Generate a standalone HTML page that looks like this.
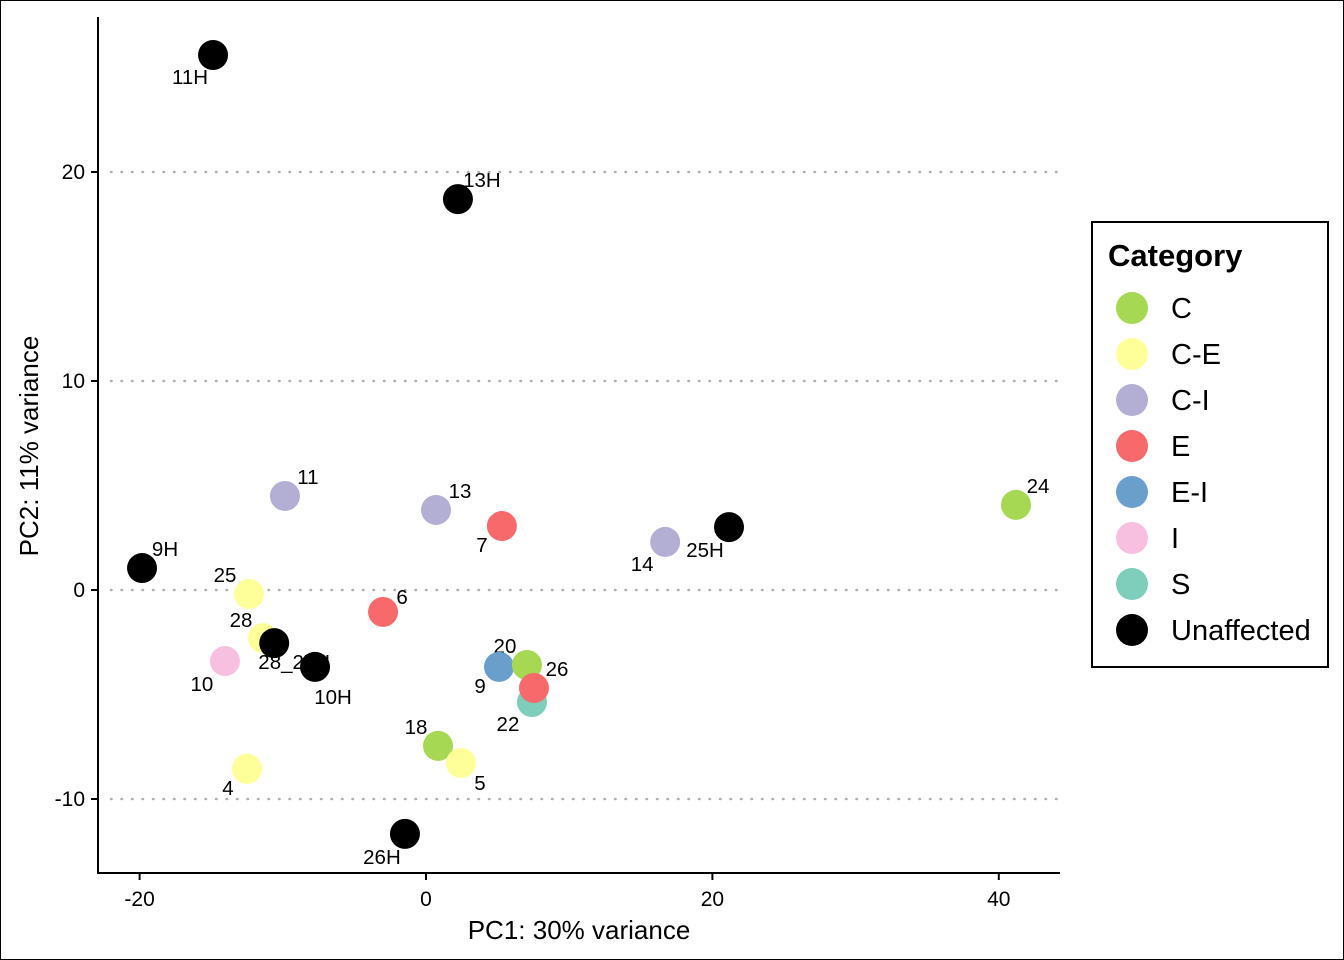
<!DOCTYPE html>
<html><head><meta charset="utf-8"><style>
html,body{margin:0;padding:0;background:#fff}
#wrap{width:1342px;height:958px;border:1px solid #000;position:relative;overflow:hidden}
svg text{font-family:"Liberation Sans",Arial,sans-serif}
</style></head><body>
<div id="wrap">
<svg id="chart" width="1342" height="958"></svg>
</div>
<script>
const sampleLabels=["11H","13H","11","13","7","24","14","25H","9H","25","6","28","28_27H","10","10H","9","20","22","26","18","5","4","26H"];
const pc1Values=[-14.87,2.23,-9.85,0.7,5.3,41.2,16.7,21.16,-19.83,-12.36,-3.0,-11.38,-10.6,-14.04,-7.75,5.1,7.05,7.4,7.54,0.84,2.44,-12.5,-1.47];
const pc2Values=[25.6,18.7,4.5,3.83,3.06,4.07,2.3,3.01,1.05,-0.19,-1.05,-2.3,-2.54,-3.4,-3.68,-3.68,-3.59,-5.36,-4.69,-7.46,-8.28,-8.56,-11.67];
const categoryValues=["Unaffected","Unaffected","C-I","C-I","E","C","C-I","Unaffected","Unaffected","C-E","E","C-E","Unaffected","I","Unaffected","E-I","C","S","E","C","C-E","C-E","Unaffected"];
const labelDx=[-23,24,23,24,-20,22,-23,-24,23,-24,19,-22,20,-23,18,-19,-22,-24,23,-22,19,-19,-23];
const labelDy=[22,-19,-19,-19,19,-19,22,23,-19,-19,-15,-18,19,23,30,19,-19,22,-19,-19,20,19,23];
const categories=["C","C-E","C-I","E","E-I","I","S","Unaffected"];
const catColors=["#a6d854","#ffff99","#b3aed4","#f8696b","#6a9fcb","#f7bfe0","#7fcdbb","#000000"];
const xTicks=[-20,0,20,40];
const yTicks=[-10,0,10,20];

const NS="http://www.w3.org/2000/svg";
const svg=document.getElementById('chart');
function xs(v){return 425+v*14.32;}
function ys(v){return 589-v*20.9;}
function mk(tag,attrs,parent){const e=document.createElementNS(NS,tag);for(const k in attrs)e.setAttribute(k,attrs[k]);(parent||svg).appendChild(e);return e;}

yTicks.forEach(t=>{
  const g=mk('line',{x1:110,x2:1058,y1:ys(t),y2:ys(t),stroke:'#b0b0b0','stroke-width':2.5,'stroke-dasharray':'0.5 10','stroke-linecap':'round'});
  
  
});
const ax=mk('line',{x1:97,x2:97,y1:16,y2:873,stroke:'#000','stroke-width':2});


const bx=mk('line',{x1:96,x2:1059,y1:872,y2:872,stroke:'#000','stroke-width':2});


xTicks.forEach(t=>{
  const l=mk('line',{x1:xs(t),x2:xs(t),y1:872,y2:879,stroke:'#000','stroke-width':2});
  
  
  const tx=mk('text',{x:xs(t),y:905,'text-anchor':'middle','font-size':21});
  tx.textContent=t;
  
  
});
yTicks.forEach(t=>{
  const l=mk('line',{x1:90,x2:97,y1:ys(t),y2:ys(t),stroke:'#000','stroke-width':2});
  
  
  const tx=mk('text',{x:84,y:ys(t)+7,'text-anchor':'end','font-size':21});
  tx.textContent=t;
  
  
});
const xt=mk('text',{x:578,y:938,'text-anchor':'middle','font-size':26});
xt.textContent='PC1: 30% variance';


const yt=mk('text',{x:0,y:0,'text-anchor':'middle','font-size':26,transform:'translate(37,445) rotate(-90)'});
yt.textContent='PC2: 11% variance';



for(let i=0;i<sampleLabels.length;i++){
  const t=mk('text',{x:xs(pc1Values[i])+labelDx[i],y:ys(pc2Values[i])+labelDy[i]+7,'text-anchor':'middle','font-size':20.5});
  t.textContent=sampleLabels[i];
  
  
}
for(let i=0;i<sampleLabels.length;i++){
  const c=mk('circle',{cx:xs(pc1Values[i]),cy:ys(pc2Values[i]),r:15,fill:catColors[categories.indexOf(categoryValues[i])]});
  
  
}

const lg=mk('g',{});


mk('rect',{x:1091,y:221,width:236,height:445,fill:'#fff',stroke:'#000','stroke-width':2},lg);
const lt=mk('text',{x:1107,y:265,'font-size':31,'font-weight':'bold'},lg);
lt.textContent='Category';


categories.forEach((c,i)=>{
  const y=307+i*46;
  const g=mk('g',{},lg);
  
  
  mk('circle',{cx:1131,cy:y,r:16,fill:catColors[i]},g);
  const t=mk('text',{x:1170,y:y+10,'font-size':29},g);
  t.textContent=c;
});
</script>
</body></html>
